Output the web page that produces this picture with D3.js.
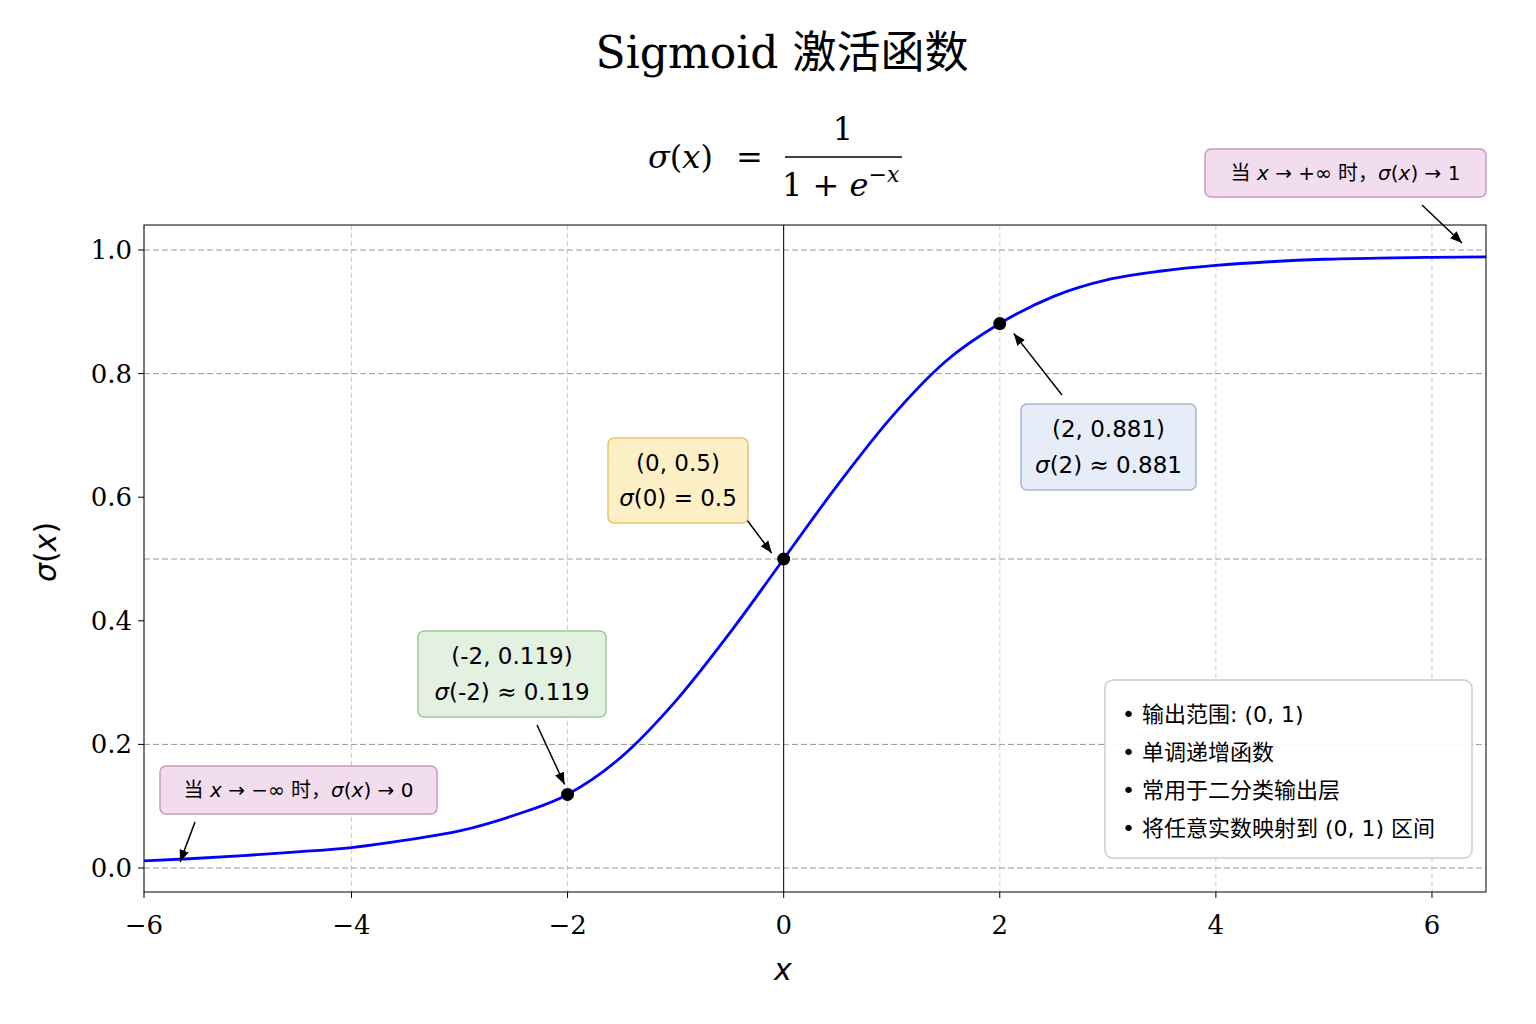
<!DOCTYPE html>
<html><head><meta charset="utf-8">
<script src="https://cdn.jsdelivr.net/npm/d3@7"></script>
<style>body{margin:0;background:#fff}</style></head>
<body><svg id="c" width="1536" height="1024"></svg>
<script>
const curveX = [-6,-5.5,-5,-4.5,-4,-3.5,-3,-2.5,-2,-1.5,-1,-0.5,0,0.5,1,1.5,2,2.5,3,3.5,4,4.5,5,5.5,6,6.5];
const curveY = [0.011,0.015,0.02,0.026,0.033,0.045,0.06,0.085,0.119,0.18,0.27,0.38,0.5,0.62,0.73,0.82,0.881,0.925,0.952,0.966,0.975,0.981,0.985,0.987,0.988,0.989];
const keyPts = [[-2,0.119],[0,0.5],[2,0.881]];
const xTicks = [-6,-4,-2,0,2,4,6];
const yTicks = [0,0.2,0.4,0.6,0.8,1.0];
const hLines = [0,0.2,0.5,0.8,1.0];
const notes = ["输出范围: (0, 1)","单调递增函数","常用于二分类输出层","将任意实数映射到 (0, 1) 区间"];

const svg = d3.select("#c");
const L=144,R=1486,T=225,B=892;
const x = d3.scaleLinear().domain([-5.92,6.5]).range([L,R]);
const xt = x.copy().clamp(true);
const y = d3.scaleLinear().domain([0,1]).range([868,250]);
const serif = "DejaVu Serif, serif", sans="DejaVu Sans, Noto Sans CJK SC, sans-serif";

svg.append("text").attr("x",782).attr("y",68).attr("text-anchor","middle").attr("font-family","DejaVu Serif, Noto Sans CJK SC").attr("font-size",44).text("Sigmoid 激活函数");
const f = svg.append("g").attr("font-family",serif).attr("font-size",32);
f.append("text").attr("x",648).attr("y",168).html('<tspan font-style="italic">σ</tspan>(<tspan font-style="italic">x</tspan>)');
f.append("text").attr("x",736).attr("y",168).text("=");
f.append("text").attr("x",843).attr("y",140).attr("text-anchor","middle").text("1");
f.append("line").attr("x1",785).attr("x2",902).attr("y1",157).attr("y2",157).attr("stroke","#000").attr("stroke-width",1.5);
f.append("text").attr("x",782).attr("y",196).html('1 + <tspan font-style="italic">e</tspan><tspan font-size="22" dy="-14">−<tspan font-style="italic">x</tspan></tspan>');

const g = svg.append("g");
g.append("defs").append("clipPath").attr("id","cp").append("rect").attr("x",L).attr("y",T).attr("width",R-L).attr("height",B-T);
xTicks.forEach(t=>g.append("line").attr("x1",xt(t)).attr("x2",xt(t)).attr("y1",T).attr("y2",B).attr("stroke","#ccc").attr("stroke-dasharray","5,3"));
hLines.forEach(t=>g.append("line").attr("x1",L).attr("x2",R).attr("y1",y(t)).attr("y2",y(t)).attr("stroke","#999").attr("stroke-dasharray","6,3"));
g.append("line").attr("x1",x(0)).attr("x2",x(0)).attr("y1",T).attr("y2",B).attr("stroke","#000").attr("stroke-width",1);
g.append("path").attr("clip-path","url(#cp)").attr("d",d3.line().x(d=>x(d[0])).y(d=>y(d[1])).curve(d3.curveMonotoneX)(curveX.map((v,i)=>[v,curveY[i]]))).attr("fill","none").attr("stroke","#0000ff").attr("stroke-width",2.8);
g.append("rect").attr("x",L).attr("y",T).attr("width",R-L).attr("height",B-T).attr("fill","none").attr("stroke","#000");
xTicks.forEach(t=>{g.append("line").attr("x1",xt(t)).attr("x2",xt(t)).attr("y1",B).attr("y2",B+6).attr("stroke","#000");
 g.append("text").attr("x",xt(t)).attr("y",B+42).attr("text-anchor","middle").attr("font-family",serif).attr("font-size",26).text(t<0?"−"+(-t):t);});
yTicks.forEach(t=>{g.append("line").attr("x1",L-6).attr("x2",L).attr("y1",y(t)).attr("y2",y(t)).attr("stroke","#000");
 g.append("text").attr("x",L-12).attr("y",y(t)+9).attr("text-anchor","end").attr("font-family",serif).attr("font-size",26).text(t.toFixed(1));});
svg.append("text").attr("x",783).attr("y",980).attr("text-anchor","middle").attr("font-family",sans).attr("font-style","italic").attr("font-size",30).text("x");
svg.append("text").attr("transform","translate(56,552) rotate(-90)").attr("text-anchor","middle").attr("font-family",sans).attr("font-size",30).html('<tspan font-style="italic">σ</tspan>(<tspan font-style="italic">x</tspan>)');

const defs=svg.append("defs");
defs.append("marker").attr("id","ar").attr("viewBox","0 0 10 10").attr("refX",10).attr("refY",5).attr("markerWidth",12).attr("markerHeight",12).attr("markerUnits","userSpaceOnUse").attr("orient","auto").append("path").attr("d","M0,1L10,5L0,9z").attr("fill","#000");
function arrow(x1,y1,x2,y2){svg.append("line").attr("x1",x1).attr("y1",y1).attr("x2",x2).attr("y2",y2).attr("stroke","#000").attr("stroke-width",1.5).attr("marker-end","url(#ar)");}
function box(bx,by,w,h,fill,stroke,lines,fs,ly){svg.append("rect").attr("x",bx).attr("y",by).attr("width",w).attr("height",h).attr("rx",6).attr("fill",fill).attr("stroke",stroke).attr("stroke-width",1.5);
 lines.forEach((l,i)=>svg.append("text").attr("x",bx+w/2).attr("y",by+ly[i]).attr("text-anchor","middle").attr("font-family",sans).attr("font-size",fs).html(l));}

arrow(537,725,x(-2)-3,y(0.119)-10);
arrow(747,520,x(0)-12,y(0.5)-6);
arrow(1062,395,x(2)+14,y(0.881)+10);
arrow(195,822,180,862);
arrow(1422,205,1462,243);
keyPts.forEach(p=>svg.append("circle").attr("cx",x(p[0])).attr("cy",y(p[1])).attr("r",6.5).attr("fill","#000"));

box(418,631,188,86,"#e3f1e0","#9cc99a",["(-2, 0.119)",'<tspan font-style="italic">σ</tspan>(-2) ≈ 0.119'],23,[33,69]);
box(608,438,140,85,"#fdf0c6","#e6c56e",["(0, 0.5)",'<tspan font-style="italic">σ</tspan>(0) = 0.5'],23,[33,68]);
box(1021,404,175,86,"#e6edf8","#a5b7d3",["(2, 0.881)",'<tspan font-style="italic">σ</tspan>(2) ≈ 0.881'],23,[33,69]);
box(160,766,277,48,"#f2ddef","#c99ac0",['当 <tspan font-style="italic">x</tspan> → −∞ 时，<tspan font-style="italic">σ</tspan>(<tspan font-style="italic">x</tspan>) → 0'],20,[31]);
box(1205,149,281,48,"#f2ddef","#c99ac0",['当 <tspan font-style="italic">x</tspan> → +∞ 时，<tspan font-style="italic">σ</tspan>(<tspan font-style="italic">x</tspan>) → 1'],20,[31]);

svg.append("rect").attr("x",1105).attr("y",680).attr("width",367).attr("height",178).attr("rx",8).attr("fill","#fff").attr("fill-opacity",0.9).attr("stroke","#ccc").attr("stroke-width",1.5);
notes.forEach((n,i)=>svg.append("text").attr("x",1122).attr("y",722+i*38).attr("font-family",sans).attr("font-size",22).text("• "+n));
</script></body></html>
